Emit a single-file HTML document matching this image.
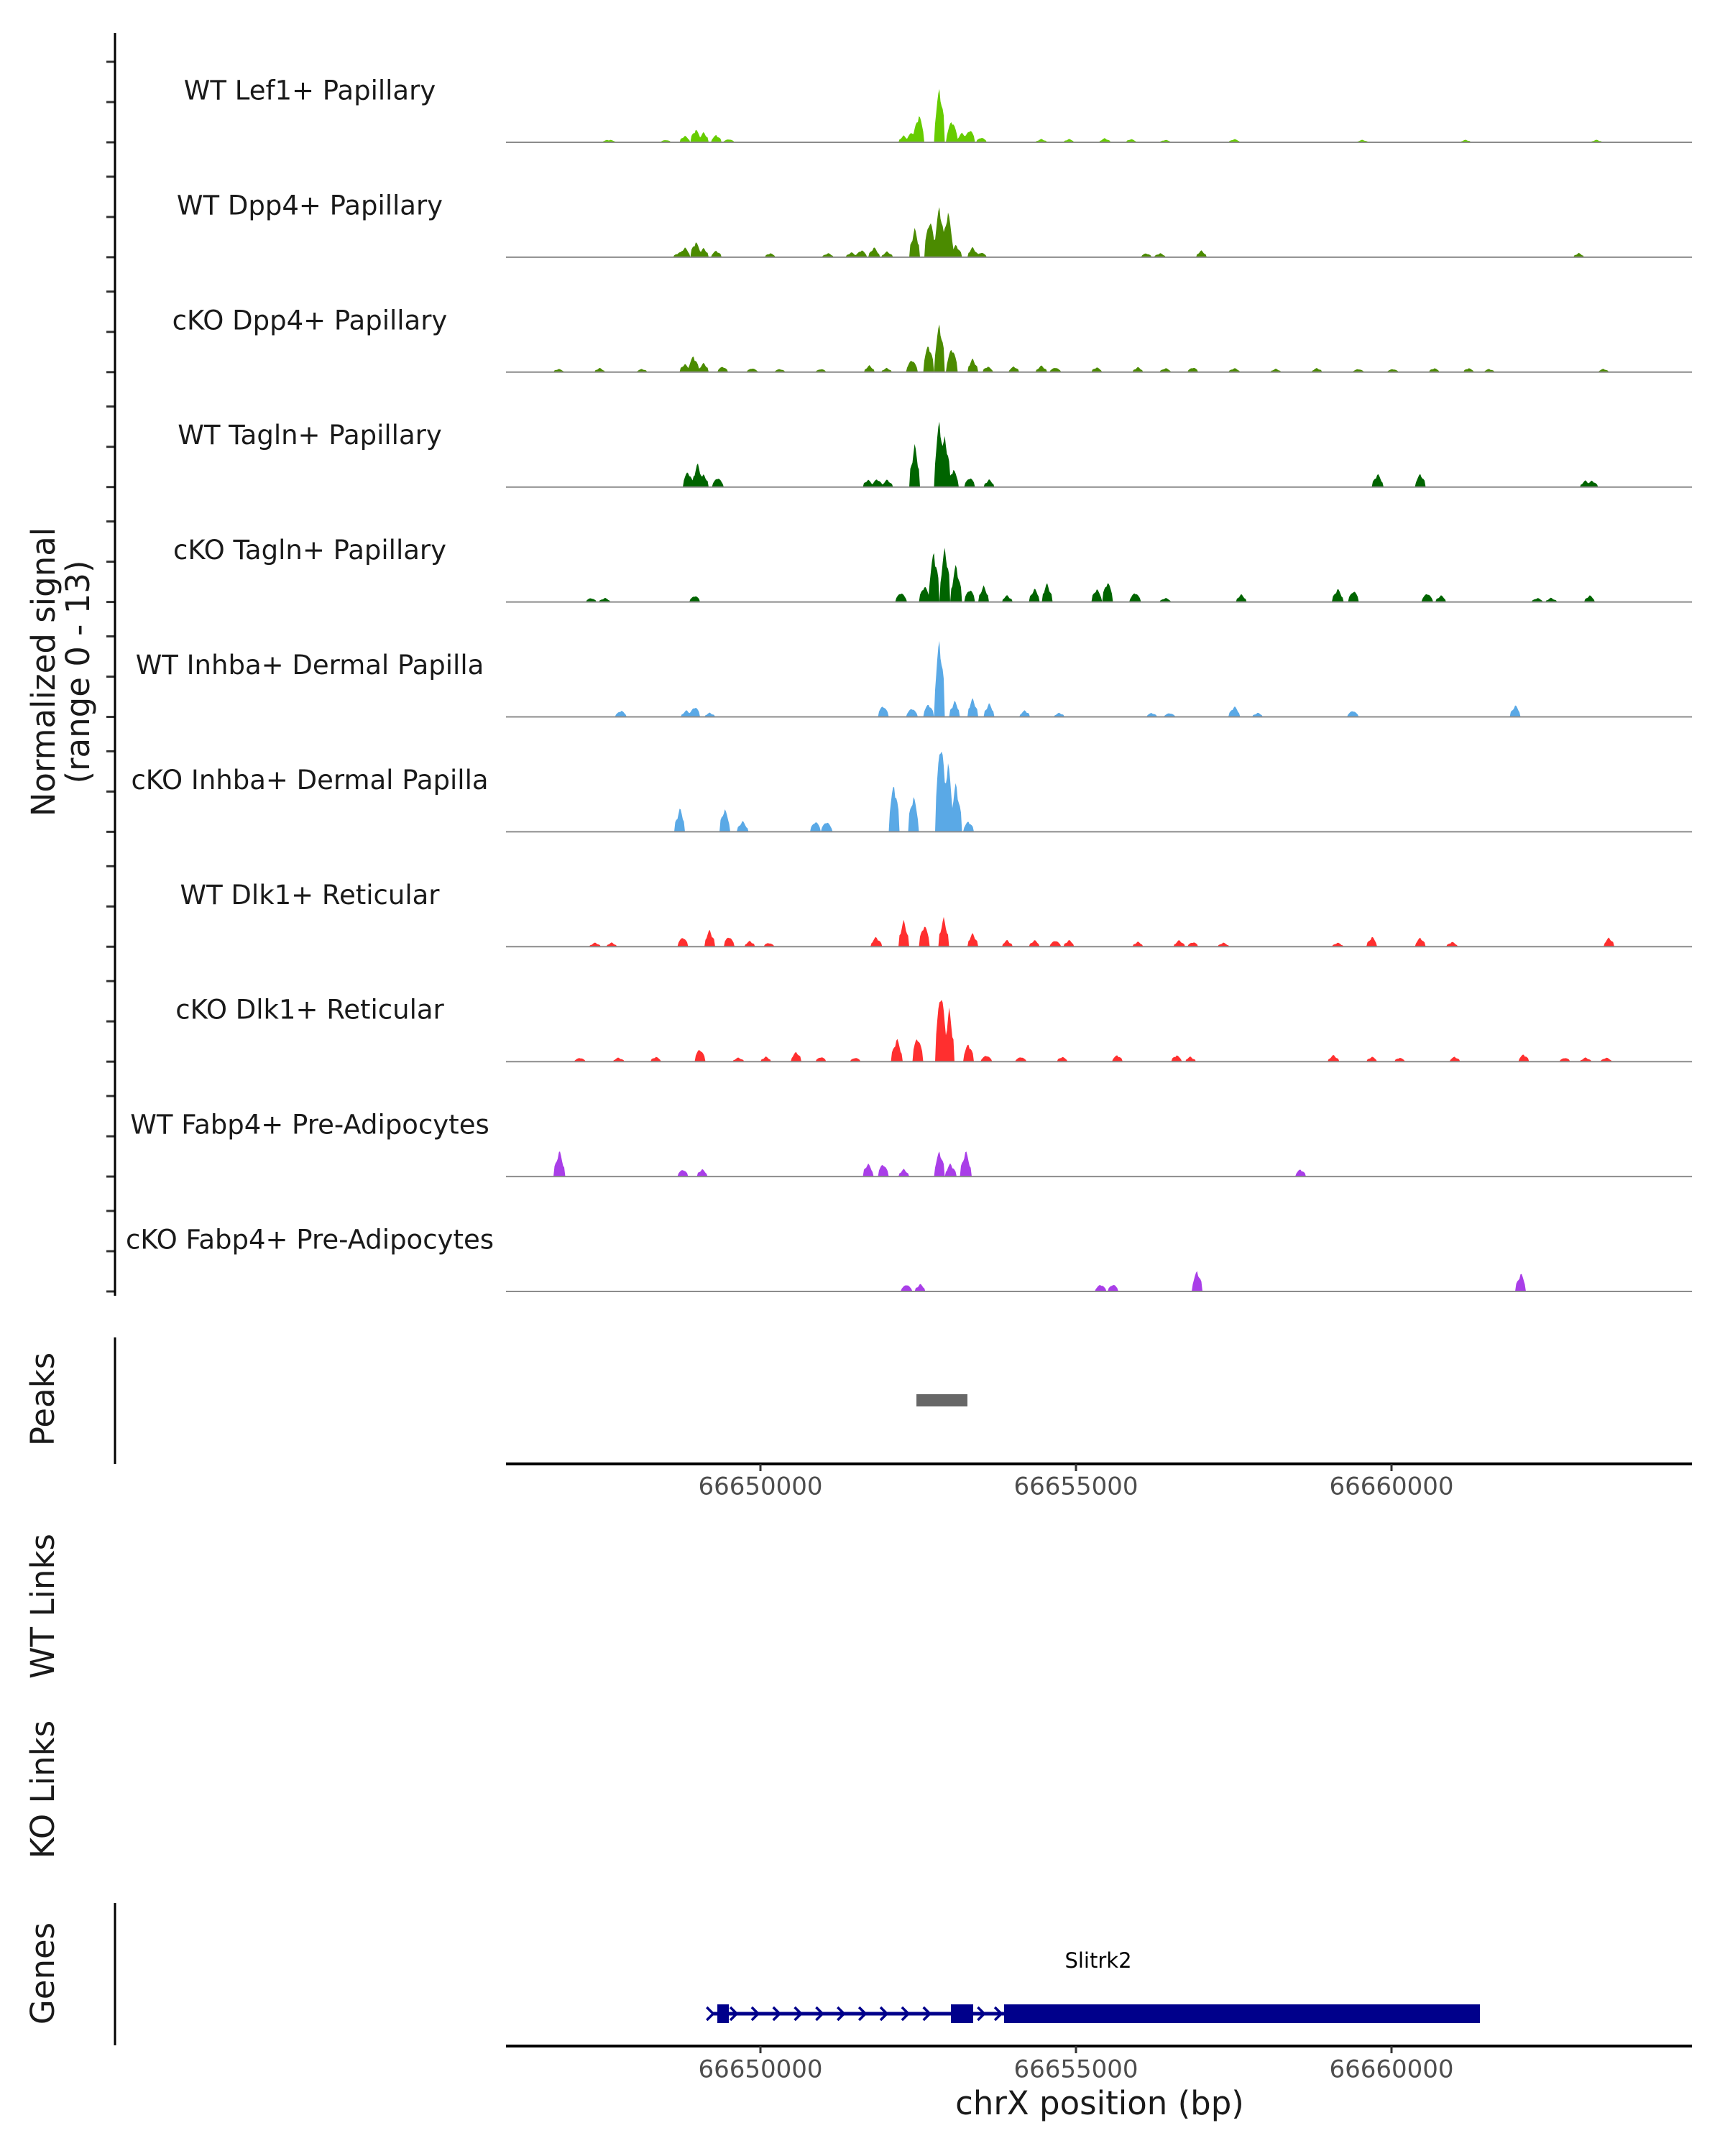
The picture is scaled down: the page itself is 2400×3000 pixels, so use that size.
<!DOCTYPE html>
<html><head><meta charset="utf-8"><style>
html,body{margin:0;padding:0;background:#fff}
svg{display:block}
text{font-family:"DejaVu Sans","Liberation Sans",sans-serif}
</style></head><body>
<svg id="chart" width="2400" height="3000" viewBox="0 0 2400 3000" xmlns="http://www.w3.org/2000/svg">
<rect width="2400" height="3000" fill="#fff"/>
<g id="tracks"></g>
<g id="axes"></g>
</svg>
<script>
const trackNames = ["WT Lef1+ Papillary","WT Dpp4+ Papillary","cKO Dpp4+ Papillary","WT Tagln+ Papillary","cKO Tagln+ Papillary","WT Inhba+ Dermal Papilla","cKO Inhba+ Dermal Papilla","WT Dlk1+ Reticular","cKO Dlk1+ Reticular","WT Fabp4+ Pre-Adipocytes","cKO Fabp4+ Pre-Adipocytes"];
const trackColors = ["#66CC00","#4B8B00","#4B8B00","#006400","#006400","#5AA9E6","#5AA9E6","#FF2F2F","#FF2F2F","#A93EE8","#A93EE8"];
// peak positions (bp) and heights (normalized signal, 0-13)
const pos0 = [66647577,66647621,66648500,66648800,66648974,66649100,66649300,66649498,66652270,66652401,66652510,66652838,66653034,66653200,66653318,66653500,66654453,66654890,66655458,66655872,66656418,66657510,66659540,66661177,66663250];
const val0 = [0.3,0.3,0.3,0.8,1.6,1.2,0.9,0.4,0.8,1.3,3.4,6.6,2.8,1.2,1.6,0.6,0.4,0.4,0.5,0.4,0.3,0.4,0.3,0.3,0.3];
const pos1 = [66648712,66648800,66648974,66649100,66649300,66650153,66651070,66651441,66651600,66651800,66652008,66652445,66652685,66652838,66652969,66653100,66653362,66653500,66656112,66656331,66656986,66662967];
const val1 = [0.6,1.2,1.9,1.1,0.8,0.5,0.5,0.6,0.9,1.2,0.7,3.4,4.7,6.2,5.6,1.5,1.2,0.6,0.5,0.5,0.8,0.5];
const pos2 = [66646800,66647450,66648123,66648800,66648939,66649100,66649400,66649869,66650306,66650961,66651725,66652000,66652401,66652663,66652838,66653034,66653362,66653600,66654017,66654453,66654672,66655327,66655981,66656418,66656855,66657510,66658165,66658819,66659474,66660020,66660675,66661221,66661548,66663359];
const val2 = [0.4,0.5,0.4,1.0,2.0,1.1,0.7,0.5,0.4,0.4,0.8,0.5,1.6,3.4,5.9,3.1,1.6,0.7,0.7,0.8,0.6,0.6,0.6,0.5,0.6,0.5,0.4,0.5,0.4,0.4,0.5,0.5,0.4,0.4];
const pos3 = [66648850,66649004,66649100,66649323,66651703,66651850,66652008,66652445,66652838,66652925,66653056,66653318,66653624,66659780,66660457,66663076,66663180];
const val3 = [1.9,2.8,1.5,1.2,0.9,1.0,0.9,5.0,8.1,6.2,2.2,1.2,0.9,1.6,1.6,0.8,0.8];
const pos4 = [66647315,66647533,66648961,66652227,66652600,66652750,66652925,66653100,66653318,66653537,66653908,66654344,66654541,66655327,66655501,66655938,66656418,66657619,66659147,66659400,66660566,66660784,66662312,66662530,66663141];
const val4 = [0.5,0.5,0.8,1.2,2.0,6.2,6.6,4.5,1.6,1.9,0.8,1.6,2.2,1.6,2.5,1.2,0.5,0.9,1.6,1.4,1.1,0.8,0.5,0.5,0.8];
const pos5 = [66647790,66648830,66648961,66649198,66651943,66652401,66652663,66652838,66653078,66653362,66653624,66654191,66654737,66656200,66656483,66657510,66657881,66659387,66661963];
const val5 = [0.8,0.8,1.3,0.5,1.4,1.1,1.6,9.4,1.9,2.2,1.6,0.8,0.5,0.5,0.5,1.3,0.5,0.8,1.4];
const pos6 = [66648724,66649432,66649716,66650873,66651048,66652117,66652423,66652860,66652969,66653100,66653296];
const val6 = [2.8,2.8,1.3,1.3,1.3,5.9,4.4,11.7,8.6,5.9,1.3];
const pos7 = [66647380,66647640,66648770,66649195,66649500,66649832,66650131,66651834,66652270,66652598,66652903,66653362,66653908,66654344,66654672,66654890,66655981,66656636,66656855,66657335,66659147,66659692,66660457,66660959,66663447];
const val7 = [0.5,0.5,1.2,2.0,1.3,0.7,0.5,1.2,3.1,2.7,3.4,1.6,0.8,0.8,0.8,0.8,0.6,0.8,0.6,0.5,0.5,1.2,1.1,0.6,1.1];
const pos8 = [66647140,66647752,66648341,66649039,66649651,66650087,66650568,66650961,66651506,66652161,66652489,66652860,66652991,66653296,66653580,66654126,66654781,66655654,66656593,66656811,66659081,66659692,66660129,66661002,66662093,66662749,66663076,66663403];
const val8 = [0.5,0.5,0.6,1.6,0.5,0.6,1.2,0.6,0.5,2.8,3.1,9.0,6.2,2.2,0.8,0.6,0.6,0.8,0.8,0.6,0.8,0.6,0.5,0.6,0.9,0.5,0.5,0.5];
const pos9 = [66646813,66648770,66649075,66651703,66651943,66652270,66652838,66653013,66653253,66658557];
const val9 = [3.1,0.9,0.9,1.6,1.6,0.9,3.1,1.6,3.1,0.9];
const pos10 = [66652314,66652532,66655392,66655589,66656920,66662050];
const val10 = [0.9,0.9,0.9,0.9,2.5,2.2];
const trackPos = [pos0,pos1,pos2,pos3,pos4,pos5,pos6,pos7,pos8,pos9,pos10];
const trackVal = [val0,val1,val2,val3,val4,val5,val6,val7,val8,val9,val10];
const xTicks = [66650000,66655000,66660000];
const xTickLabels = ["66650000","66655000","66660000"];
const peakStarts = [66652472];
const peakEnds = [66653280];
const geneName = "Slitrk2";
const geneStart = 66649226, geneEnd = 66661401;
const exonStarts = [66649317,66653018,66653861];
const exonEnds = [66649499,66653371,66661401];

const NS="http://www.w3.org/2000/svg";
const X0=704,X1=2354,BP0=66645968,BP1=66664761;
const xs = bp => X0 + (bp-BP0)/(BP1-BP0)*(X1-X0);
const TRK0=198, TRKH=159.9, YMAX=13;
function mk(tag, attrs, parent){const e=document.createElementNS(NS,tag);for(const k in attrs)e.setAttribute(k,attrs[k]);parent.appendChild(e);return e;}
const gT=document.getElementById('tracks'), gA=document.getElementById('axes');

trackNames.forEach((name,i)=>{
  const base = TRK0 + i*TRKH;
  const g = mk('g',{},gT);
  
  
  const lab = mk('text',{x:431,y:base-70,'font-size':37,'text-anchor':'middle','dominant-baseline':'middle',fill:'#1a1a1a'},g);
  lab.textContent=name;
  
  
  const P=trackPos[i], V=trackVal[i];
  let d='M'+X0+','+base;
  for(let px=X0;px<=X1;px+=1.5){
    let m=0;
    for(let j=0;j<P.length;j++){
      const c=xs(P[j]); const w=7;
      const t=1-Math.abs(px-c)/w;
      if(t>0){const v=V[j]*(0.35+0.65*t)*(0.75+0.25*Math.abs(Math.sin(px*1.7)));if(v>m)m=v;}
    }
    const y=base - m/YMAX*TRKH;
    d+='L'+px.toFixed(1)+','+y.toFixed(1);
  }
  d+='L'+X1+','+base+'Z';
  const area=mk('path',{d:d,fill:trackColors[i]},g);
  
  
  const bl=mk('line',{x1:X0,x2:X1,y1:base,y2:base,stroke:'#8c8c8c','stroke-width':2},g);
  
  
  [0,56,112].forEach(o=>{
    const t=mk('line',{x1:148,x2:160,y1:base-o,y2:base-o,stroke:'#333','stroke-width':3},gA);
    
    
  });
});
const ya=mk('line',{x1:160,x2:160,y1:46,y2:1803,stroke:'#000','stroke-width':3},gA);


function rot(txt,x,y,size,name){const t=mk('text',{x:x,y:y,'font-size':size,'text-anchor':'middle','dominant-baseline':'middle',fill:'#1a1a1a',transform:'rotate(-90 '+x+' '+y+')'},gA);t.textContent=txt;return t;}
rot('Normalized signal',64,935,45,'y-axis-title');
rot('(range 0 - 13)',112,935,45,'y-axis-subtitle');
rot('Peaks',63,1947,45,'peaks-title');
rot('WT Links',63,2235,45,'wt-links-title');
rot('KO Links',63,2490,45,'ko-links-title');
rot('Genes',63,2746,45,'genes-title');
const pl=mk('line',{x1:160,x2:160,y1:1861,y2:2037,stroke:'#000','stroke-width':3},gA);


peakStarts.forEach((s,i)=>{const r=mk('rect',{x:xs(s),y:1940,width:xs(peakEnds[i])-xs(s),height:17,fill:'#676767'},gA);

});
function xaxis(y,labY,nm){
  const l=mk('line',{x1:X0,x2:X1,y1:y,y2:y,stroke:'#000','stroke-width':4},gA);
  
  
  xTicks.forEach((b,i)=>{
    const tk=mk('line',{x1:xs(b),x2:xs(b),y1:y,y2:y+10,stroke:'#333','stroke-width':3},gA);
    
    
    const t=mk('text',{x:xs(b),y:labY,'font-size':34,'text-anchor':'middle','dominant-baseline':'middle',fill:'#4d4d4d'},gA);
    t.textContent=xTickLabels[i];
    
    
  });
}
xaxis(2037,2070,'peaks-x-axis');
const gl=mk('line',{x1:160,x2:160,y1:2648,y2:2846,stroke:'#000','stroke-width':3},gA);


const gy=2802;
const gline=mk('line',{x1:xs(geneStart),x2:xs(geneEnd),y1:gy,y2:gy,stroke:'#00008B','stroke-width':5},gA);


function arrow(b){const x=xs(b);const a=mk('path',{d:`M${x-5},${gy-9}L${x+4},${gy}L${x-5},${gy+9}`,stroke:'#00008B','stroke-width':3.5,fill:'none'},gA);

}
arrow(geneStart-20);
for(let b=exonEnds[0]+80;b<exonStarts[1]-100;b+=340) arrow(b);
arrow(exonEnds[1]+130);
arrow(exonEnds[1]+400);
exonStarts.forEach((s,i)=>{const r=mk('rect',{x:xs(s),y:2789,width:xs(exonEnds[i])-xs(s),height:26,fill:'#00008B'},gA);

});
const gn=mk('text',{x:1528,y:2730,'font-size':29,'text-anchor':'middle','dominant-baseline':'middle',fill:'#000'},gA);
gn.textContent=geneName;


xaxis(2847,2881,'genes-x-axis');
const xt=mk('text',{x:1530,y:2930,'font-size':45,'text-anchor':'middle','dominant-baseline':'middle',fill:'#1a1a1a'},gA);
xt.textContent='chrX position (bp)';


</script>
</body></html>
